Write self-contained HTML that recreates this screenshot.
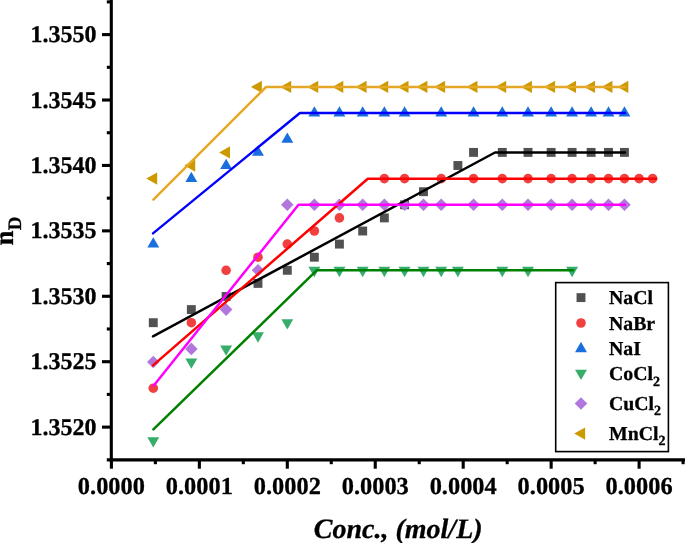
<!DOCTYPE html>
<html><head><meta charset="utf-8"><title>chart</title>
<style>
html,body{margin:0;padding:0;background:#fff;}
body{width:685px;height:543px;overflow:hidden;position:relative;font-family:"Liberation Serif",serif;}
svg{position:absolute;left:0;top:0;display:block;will-change:transform;}
text{font-family:"Liberation Serif",serif;font-weight:bold;fill:#000;text-rendering:geometricPrecision;stroke:#000;stroke-width:0.3px;stroke-linejoin:round;}
</style></head><body>
<svg width="685" height="543" viewBox="0 0 685 543">
<rect width="685" height="543" fill="#fff"/>

<g>
<rect x="148.83" y="318.25" width="8.9" height="8.9" fill="#515151"/>
<rect x="186.90" y="305.15" width="8.9" height="8.9" fill="#515151"/>
<rect x="221.67" y="292.05" width="8.9" height="8.9" fill="#515151"/>
<rect x="253.53" y="278.95" width="8.9" height="8.9" fill="#515151"/>
<rect x="282.85" y="265.85" width="8.9" height="8.9" fill="#515151"/>
<rect x="309.91" y="252.75" width="8.9" height="8.9" fill="#515151"/>
<rect x="334.97" y="239.65" width="8.9" height="8.9" fill="#515151"/>
<rect x="358.24" y="226.55" width="8.9" height="8.9" fill="#515151"/>
<rect x="379.90" y="213.45" width="8.9" height="8.9" fill="#515151"/>
<rect x="400.12" y="200.35" width="8.9" height="8.9" fill="#515151"/>
<rect x="419.03" y="187.25" width="8.9" height="8.9" fill="#515151"/>
<rect x="453.42" y="161.05" width="8.9" height="8.9" fill="#515151"/>
<rect x="469.10" y="147.95" width="8.9" height="8.9" fill="#515151"/>
<rect x="497.84" y="147.95" width="8.9" height="8.9" fill="#515151"/>
<rect x="523.56" y="147.95" width="8.9" height="8.9" fill="#515151"/>
<rect x="546.70" y="147.95" width="8.9" height="8.9" fill="#515151"/>
<rect x="567.64" y="147.95" width="8.9" height="8.9" fill="#515151"/>
<rect x="586.68" y="147.95" width="8.9" height="8.9" fill="#515151"/>
<rect x="604.06" y="147.95" width="8.9" height="8.9" fill="#515151"/>
<rect x="619.99" y="147.95" width="8.9" height="8.9" fill="#515151"/>
</g>
<g>
<circle cx="153.28" cy="388.20" r="4.8" fill="#F14040"/>
<circle cx="191.35" cy="322.70" r="4.8" fill="#F14040"/>
<circle cx="226.12" cy="270.30" r="4.8" fill="#F14040"/>
<circle cx="257.98" cy="257.20" r="4.8" fill="#F14040"/>
<circle cx="287.30" cy="244.10" r="4.8" fill="#F14040"/>
<circle cx="314.36" cy="231.00" r="4.8" fill="#F14040"/>
<circle cx="339.42" cy="217.90" r="4.8" fill="#F14040"/>
<circle cx="384.35" cy="178.60" r="4.8" fill="#F14040"/>
<circle cx="404.57" cy="178.60" r="4.8" fill="#F14040"/>
<circle cx="441.21" cy="178.60" r="4.8" fill="#F14040"/>
<circle cx="473.55" cy="178.60" r="4.8" fill="#F14040"/>
<circle cx="502.29" cy="178.60" r="4.8" fill="#F14040"/>
<circle cx="528.01" cy="178.60" r="4.8" fill="#F14040"/>
<circle cx="551.15" cy="178.60" r="4.8" fill="#F14040"/>
<circle cx="572.09" cy="178.60" r="4.8" fill="#F14040"/>
<circle cx="591.13" cy="178.60" r="4.8" fill="#F14040"/>
<circle cx="608.51" cy="178.60" r="4.8" fill="#F14040"/>
<circle cx="624.44" cy="178.60" r="4.8" fill="#F14040"/>
<circle cx="639.10" cy="178.60" r="4.8" fill="#F14040"/>
<circle cx="652.63" cy="178.60" r="4.8" fill="#F14040"/>
</g>
<g>
<path d="M147.33 247.53L159.23 247.53L153.28 237.23Z" fill="#1A6FDF"/>
<path d="M185.40 182.03L197.30 182.03L191.35 171.73Z" fill="#1A6FDF"/>
<path d="M220.17 168.93L232.07 168.93L226.12 158.63Z" fill="#1A6FDF"/>
<path d="M252.03 155.83L263.93 155.83L257.98 145.53Z" fill="#1A6FDF"/>
<path d="M281.35 142.73L293.25 142.73L287.30 132.43Z" fill="#1A6FDF"/>
<path d="M308.41 116.53L320.31 116.53L314.36 106.23Z" fill="#1A6FDF"/>
<path d="M333.47 116.53L345.37 116.53L339.42 106.23Z" fill="#1A6FDF"/>
<path d="M356.74 116.53L368.64 116.53L362.69 106.23Z" fill="#1A6FDF"/>
<path d="M378.40 116.53L390.30 116.53L384.35 106.23Z" fill="#1A6FDF"/>
<path d="M398.62 116.53L410.52 116.53L404.57 106.23Z" fill="#1A6FDF"/>
<path d="M435.26 116.53L447.16 116.53L441.21 106.23Z" fill="#1A6FDF"/>
<path d="M467.60 116.53L479.50 116.53L473.55 106.23Z" fill="#1A6FDF"/>
<path d="M496.34 116.53L508.24 116.53L502.29 106.23Z" fill="#1A6FDF"/>
<path d="M522.06 116.53L533.96 116.53L528.01 106.23Z" fill="#1A6FDF"/>
<path d="M545.20 116.53L557.10 116.53L551.15 106.23Z" fill="#1A6FDF"/>
<path d="M566.14 116.53L578.04 116.53L572.09 106.23Z" fill="#1A6FDF"/>
<path d="M585.18 116.53L597.08 116.53L591.13 106.23Z" fill="#1A6FDF"/>
<path d="M602.56 116.53L614.46 116.53L608.51 106.23Z" fill="#1A6FDF"/>
<path d="M618.49 116.53L630.39 116.53L624.44 106.23Z" fill="#1A6FDF"/>
</g>
<g>
<path d="M147.33 437.17L159.23 437.17L153.28 447.47Z" fill="#37AD6B"/>
<path d="M185.40 358.57L197.30 358.57L191.35 368.87Z" fill="#37AD6B"/>
<path d="M220.17 345.47L232.07 345.47L226.12 355.77Z" fill="#37AD6B"/>
<path d="M252.03 332.37L263.93 332.37L257.98 342.67Z" fill="#37AD6B"/>
<path d="M281.35 319.27L293.25 319.27L287.30 329.57Z" fill="#37AD6B"/>
<path d="M308.41 266.87L320.31 266.87L314.36 277.17Z" fill="#37AD6B"/>
<path d="M333.47 266.87L345.37 266.87L339.42 277.17Z" fill="#37AD6B"/>
<path d="M356.74 266.87L368.64 266.87L362.69 277.17Z" fill="#37AD6B"/>
<path d="M378.40 266.87L390.30 266.87L384.35 277.17Z" fill="#37AD6B"/>
<path d="M398.62 266.87L410.52 266.87L404.57 277.17Z" fill="#37AD6B"/>
<path d="M417.53 266.87L429.43 266.87L423.48 277.17Z" fill="#37AD6B"/>
<path d="M435.26 266.87L447.16 266.87L441.21 277.17Z" fill="#37AD6B"/>
<path d="M451.92 266.87L463.82 266.87L457.87 277.17Z" fill="#37AD6B"/>
<path d="M496.34 266.87L508.24 266.87L502.29 277.17Z" fill="#37AD6B"/>
<path d="M522.06 266.87L533.96 266.87L528.01 277.17Z" fill="#37AD6B"/>
<path d="M566.14 266.87L578.04 266.87L572.09 277.17Z" fill="#37AD6B"/>
</g>
<g>
<path d="M146.98 362.00L153.28 355.70L159.58 362.00L153.28 368.30Z" fill="#B177DE"/>
<path d="M185.05 348.90L191.35 342.60L197.65 348.90L191.35 355.20Z" fill="#B177DE"/>
<path d="M219.82 309.60L226.12 303.30L232.42 309.60L226.12 315.90Z" fill="#B177DE"/>
<path d="M251.68 270.30L257.98 264.00L264.28 270.30L257.98 276.60Z" fill="#B177DE"/>
<path d="M281.00 204.80L287.30 198.50L293.60 204.80L287.30 211.10Z" fill="#B177DE"/>
<path d="M308.06 204.80L314.36 198.50L320.66 204.80L314.36 211.10Z" fill="#B177DE"/>
<path d="M333.12 204.80L339.42 198.50L345.72 204.80L339.42 211.10Z" fill="#B177DE"/>
<path d="M356.39 204.80L362.69 198.50L368.99 204.80L362.69 211.10Z" fill="#B177DE"/>
<path d="M378.05 204.80L384.35 198.50L390.65 204.80L384.35 211.10Z" fill="#B177DE"/>
<path d="M398.27 204.80L404.57 198.50L410.87 204.80L404.57 211.10Z" fill="#B177DE"/>
<path d="M417.18 204.80L423.48 198.50L429.78 204.80L423.48 211.10Z" fill="#B177DE"/>
<path d="M434.91 204.80L441.21 198.50L447.51 204.80L441.21 211.10Z" fill="#B177DE"/>
<path d="M467.25 204.80L473.55 198.50L479.85 204.80L473.55 211.10Z" fill="#B177DE"/>
<path d="M495.99 204.80L502.29 198.50L508.59 204.80L502.29 211.10Z" fill="#B177DE"/>
<path d="M521.71 204.80L528.01 198.50L534.31 204.80L528.01 211.10Z" fill="#B177DE"/>
<path d="M544.85 204.80L551.15 198.50L557.45 204.80L551.15 211.10Z" fill="#B177DE"/>
<path d="M565.79 204.80L572.09 198.50L578.39 204.80L572.09 211.10Z" fill="#B177DE"/>
<path d="M584.83 204.80L591.13 198.50L597.43 204.80L591.13 211.10Z" fill="#B177DE"/>
<path d="M602.21 204.80L608.51 198.50L614.81 204.80L608.51 211.10Z" fill="#B177DE"/>
<path d="M618.14 204.80L624.44 198.50L630.74 204.80L624.44 211.10Z" fill="#B177DE"/>
</g>
<g>
<path d="M157.18 172.40L157.18 184.80L146.28 178.60Z" fill="#CC9900"/>
<path d="M195.25 159.30L195.25 171.70L184.35 165.50Z" fill="#CC9900"/>
<path d="M230.02 146.20L230.02 158.60L219.12 152.40Z" fill="#CC9900"/>
<path d="M261.88 80.70L261.88 93.10L250.98 86.90Z" fill="#CC9900"/>
<path d="M291.20 80.70L291.20 93.10L280.30 86.90Z" fill="#CC9900"/>
<path d="M318.26 80.70L318.26 93.10L307.36 86.90Z" fill="#CC9900"/>
<path d="M343.32 80.70L343.32 93.10L332.42 86.90Z" fill="#CC9900"/>
<path d="M366.59 80.70L366.59 93.10L355.69 86.90Z" fill="#CC9900"/>
<path d="M388.25 80.70L388.25 93.10L377.35 86.90Z" fill="#CC9900"/>
<path d="M408.47 80.70L408.47 93.10L397.57 86.90Z" fill="#CC9900"/>
<path d="M427.38 80.70L427.38 93.10L416.48 86.90Z" fill="#CC9900"/>
<path d="M445.11 80.70L445.11 93.10L434.21 86.90Z" fill="#CC9900"/>
<path d="M477.45 80.70L477.45 93.10L466.55 86.90Z" fill="#CC9900"/>
<path d="M506.19 80.70L506.19 93.10L495.29 86.90Z" fill="#CC9900"/>
<path d="M531.91 80.70L531.91 93.10L521.01 86.90Z" fill="#CC9900"/>
<path d="M555.05 80.70L555.05 93.10L544.15 86.90Z" fill="#CC9900"/>
<path d="M575.99 80.70L575.99 93.10L565.09 86.90Z" fill="#CC9900"/>
<path d="M595.03 80.70L595.03 93.10L584.13 86.90Z" fill="#CC9900"/>
<path d="M612.41 80.70L612.41 93.10L601.51 86.90Z" fill="#CC9900"/>
<path d="M628.34 80.70L628.34 93.10L617.44 86.90Z" fill="#CC9900"/>
</g>
<polyline points="153.0,336.3 495.0,152.5 625.0,152.5" fill="none" stroke="#000000" stroke-width="2.5" stroke-linejoin="round" stroke-linecap="round"/>
<polyline points="153.0,365.4 367.8,178.7 656.0,178.7" fill="none" stroke="#FF0000" stroke-width="2.5" stroke-linejoin="round" stroke-linecap="round"/>
<polyline points="153.0,233.4 299.9,113.0 625.0,113.0" fill="none" stroke="#0000FF" stroke-width="2.35" stroke-linejoin="round" stroke-linecap="round"/>
<polyline points="153.4,429.4 316.9,270.2 573.0,270.2" fill="none" stroke="#008000" stroke-width="2.5" stroke-linejoin="round" stroke-linecap="round"/>
<polyline points="153.6,385.7 298.5,204.8 625.0,204.8" fill="none" stroke="#FF00FF" stroke-width="2.5" stroke-linejoin="round" stroke-linecap="round"/>
<polyline points="153.4,199.6 266.1,87.0 625.0,87.0" fill="none" stroke="#E5A826" stroke-width="2.5" stroke-linejoin="round" stroke-linecap="round"/>
<g stroke="#000" stroke-width="3.1" fill="none">
<line x1="111.3" y1="0" x2="111.3" y2="461.3"/>
<line x1="106.8" y1="459.9" x2="685" y2="459.9"/>
<line x1="102" y1="34.60" x2="111" y2="34.60"/>
<line x1="102" y1="100.02" x2="111" y2="100.02"/>
<line x1="102" y1="165.44" x2="111" y2="165.44"/>
<line x1="102" y1="230.86" x2="111" y2="230.86"/>
<line x1="102" y1="296.28" x2="111" y2="296.28"/>
<line x1="102" y1="361.70" x2="111" y2="361.70"/>
<line x1="102" y1="427.12" x2="111" y2="427.12"/>
<line x1="106.8" y1="1.89" x2="111" y2="1.89"/>
<line x1="106.8" y1="67.31" x2="111" y2="67.31"/>
<line x1="106.8" y1="132.73" x2="111" y2="132.73"/>
<line x1="106.8" y1="198.15" x2="111" y2="198.15"/>
<line x1="106.8" y1="263.57" x2="111" y2="263.57"/>
<line x1="106.8" y1="328.99" x2="111" y2="328.99"/>
<line x1="106.8" y1="394.41" x2="111" y2="394.41"/>
<line x1="111.40" y1="460" x2="111.40" y2="468.7"/>
<line x1="199.35" y1="460" x2="199.35" y2="468.7"/>
<line x1="287.30" y1="460" x2="287.30" y2="468.7"/>
<line x1="375.25" y1="460" x2="375.25" y2="468.7"/>
<line x1="463.20" y1="460" x2="463.20" y2="468.7"/>
<line x1="551.15" y1="460" x2="551.15" y2="468.7"/>
<line x1="639.10" y1="460" x2="639.10" y2="468.7"/>
<line x1="155.38" y1="460" x2="155.38" y2="464.2"/>
<line x1="243.32" y1="460" x2="243.32" y2="464.2"/>
<line x1="331.27" y1="460" x2="331.27" y2="464.2"/>
<line x1="419.23" y1="460" x2="419.23" y2="464.2"/>
<line x1="507.18" y1="460" x2="507.18" y2="464.2"/>
<line x1="595.12" y1="460" x2="595.12" y2="464.2"/>
<line x1="683.08" y1="460" x2="683.08" y2="464.2"/>
</g>
<text x="96.4" y="42.20" font-size="24" text-anchor="end">1.3550</text>
<text x="96.4" y="107.62" font-size="24" text-anchor="end">1.3545</text>
<text x="96.4" y="173.04" font-size="24" text-anchor="end">1.3540</text>
<text x="96.4" y="238.46" font-size="24" text-anchor="end">1.3535</text>
<text x="96.4" y="303.88" font-size="24" text-anchor="end">1.3530</text>
<text x="96.4" y="369.30" font-size="24" text-anchor="end">1.3525</text>
<text x="96.4" y="434.72" font-size="24" text-anchor="end">1.3520</text>
<text x="111.40" y="494.4" font-size="24.4" text-anchor="middle">0.0000</text>
<text x="199.35" y="494.4" font-size="24.4" text-anchor="middle">0.0001</text>
<text x="287.30" y="494.4" font-size="24.4" text-anchor="middle">0.0002</text>
<text x="375.25" y="494.4" font-size="24.4" text-anchor="middle">0.0003</text>
<text x="463.20" y="494.4" font-size="24.4" text-anchor="middle">0.0004</text>
<text x="551.15" y="494.4" font-size="24.4" text-anchor="middle">0.0005</text>
<text x="639.10" y="494.4" font-size="24.4" text-anchor="middle">0.0006</text>
<text x="398.2" y="537.8" font-size="28" font-style="italic" text-anchor="middle">Conc., (mol/L)</text>
<text transform="translate(12.9,231) rotate(-90)" font-size="27" text-anchor="middle">n<tspan font-size="19" dx="0.4" dy="7.7">D</tspan></text>
<rect x="555.7" y="282.6" width="112.7" height="169" fill="#fff" stroke="#000" stroke-width="1.6"/>
<rect x="576.55" y="293.15" width="8.9" height="8.9" fill="#515151"/>
<text x="609" y="304" font-size="19.8">NaCl</text>
<circle cx="581.00" cy="323.00" r="4.8" fill="#F14040"/>
<text x="609" y="329.8" font-size="19.8">NaBr</text>
<path d="M575.05 352.13L586.95 352.13L581.00 341.83Z" fill="#1A6FDF"/>
<text x="609" y="354.7" font-size="19.8">NaI</text>
<path d="M575.05 369.77L586.95 369.77L581.00 380.07Z" fill="#37AD6B"/>
<text x="609" y="380.4" font-size="19.8">CoCl<tspan font-size="14" dy="5.4">2</tspan></text>
<path d="M574.70 403.50L581.00 397.20L587.30 403.50L581.00 409.80Z" fill="#B177DE"/>
<text x="609" y="410" font-size="19.8">CuCl<tspan font-size="14" dy="5.4">2</tspan></text>
<path d="M585.10 427.40L585.10 439.80L574.20 433.60Z" fill="#CC9900"/>
<text x="609" y="439.7" font-size="19.8">MnCl<tspan font-size="14" dy="5.4">2</tspan></text>
</svg></body></html>
